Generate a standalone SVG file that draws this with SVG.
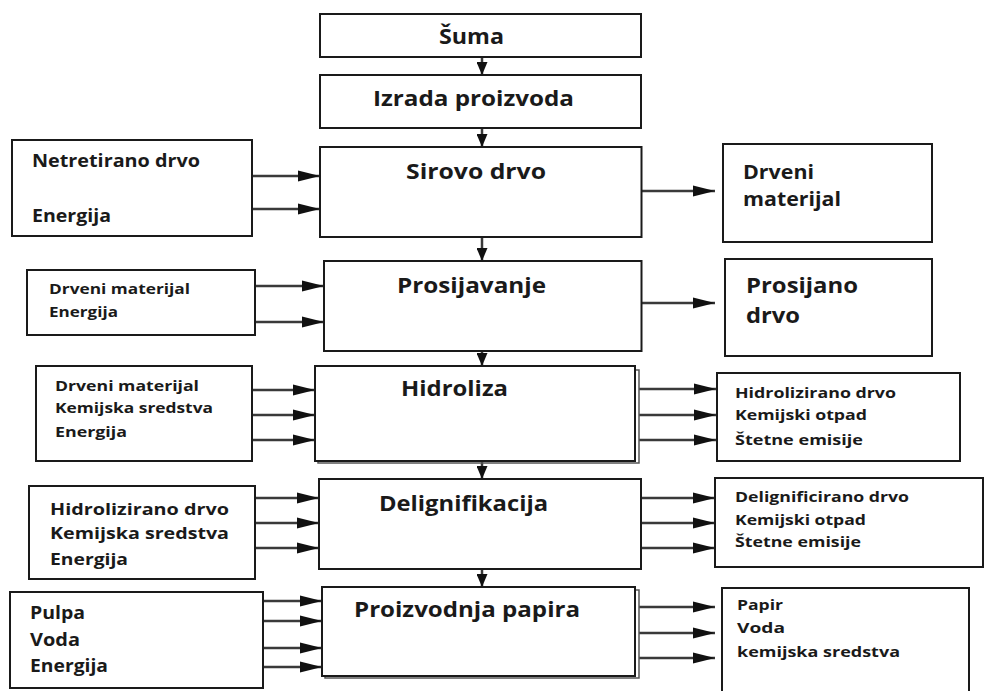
<svg xmlns="http://www.w3.org/2000/svg" width="984" height="691" viewBox="0 0 984 691">
<style>
.box{fill:#fff;stroke:#1a1a1a;stroke-width:2}
.shadow{fill:none;stroke:#555;stroke-width:1.5}
.c line{stroke:#3a3a3a;stroke-width:2.5}
text{font-family:"Open Sans","Liberation Sans",sans-serif;font-weight:700;fill:#1a1a1a}
.t{font-size:22px}
.s20{font-size:20px}
.s14{font-size:14px}.s15{font-size:15px}.s16{font-size:16px}.s17{font-size:17px}
</style>
<defs>
<marker id="ah" markerUnits="userSpaceOnUse" markerWidth="22" markerHeight="12" refX="22" refY="6" orient="auto"><path d="M0,0.5 L22,6 L0,11.5 Z" fill="#111"/></marker>
<marker id="av" markerUnits="userSpaceOnUse" markerWidth="13" markerHeight="11" refX="13" refY="5.5" orient="auto"><path d="M0,0 L13,5.5 L0,11 Z" fill="#111"/></marker>
</defs>
<rect width="984" height="691" fill="#fff"/>
<g class="c" id="connectors">
<line x1="482" y1="57" x2="482" y2="75" marker-end="url(#av)"/>
<line x1="482" y1="128" x2="482" y2="147" marker-end="url(#av)"/>
<line x1="482" y1="237" x2="482" y2="261" marker-end="url(#av)"/>
<line x1="482" y1="351" x2="482" y2="366" marker-end="url(#av)"/>
<line x1="482" y1="461" x2="482" y2="479" marker-end="url(#av)"/>
<line x1="482" y1="569" x2="482" y2="587" marker-end="url(#av)"/>
<line x1="252" y1="176" x2="320" y2="176" marker-end="url(#ah)"/>
<line x1="252" y1="209" x2="320" y2="209" marker-end="url(#ah)"/>
<line x1="642" y1="191" x2="715" y2="191" marker-end="url(#ah)"/>
<line x1="255" y1="286" x2="324" y2="286" marker-end="url(#ah)"/>
<line x1="255" y1="322" x2="324" y2="322" marker-end="url(#ah)"/>
<line x1="642" y1="303" x2="715" y2="303" marker-end="url(#ah)"/>
<line x1="252" y1="390" x2="315" y2="390" marker-end="url(#ah)"/>
<line x1="252" y1="415" x2="315" y2="415" marker-end="url(#ah)"/>
<line x1="252" y1="440" x2="315" y2="440" marker-end="url(#ah)"/>
<line x1="639" y1="389" x2="716" y2="389" marker-end="url(#ah)"/>
<line x1="639" y1="415" x2="716" y2="415" marker-end="url(#ah)"/>
<line x1="639" y1="440" x2="716" y2="440" marker-end="url(#ah)"/>
<line x1="255" y1="498" x2="319" y2="498" marker-end="url(#ah)"/>
<line x1="255" y1="523" x2="319" y2="523" marker-end="url(#ah)"/>
<line x1="255" y1="548" x2="319" y2="548" marker-end="url(#ah)"/>
<line x1="641" y1="498" x2="715" y2="498" marker-end="url(#ah)"/>
<line x1="641" y1="523" x2="715" y2="523" marker-end="url(#ah)"/>
<line x1="641" y1="548" x2="715" y2="548" marker-end="url(#ah)"/>
<line x1="263" y1="601" x2="322" y2="601" marker-end="url(#ah)"/>
<line x1="263" y1="621" x2="322" y2="621" marker-end="url(#ah)"/>
<line x1="263" y1="648" x2="322" y2="648" marker-end="url(#ah)"/>
<line x1="263" y1="667" x2="322" y2="667" marker-end="url(#ah)"/>
<line x1="639" y1="607" x2="715" y2="607" marker-end="url(#ah)"/>
<line x1="639" y1="633" x2="715" y2="633" marker-end="url(#ah)"/>
<line x1="639" y1="658" x2="715" y2="658" marker-end="url(#ah)"/>
</g>
<g id="suma"><rect class="box" x="320" y="14" width="321" height="43"/><text class="t" x="439" y="44" textLength="65" lengthAdjust="spacingAndGlyphs">Šuma</text></g>
<g id="izrada"><rect class="box" x="320" y="75" width="321" height="53"/><text class="t" x="373" y="106" textLength="201" lengthAdjust="spacingAndGlyphs">Izrada proizvoda</text></g>
<g id="sirovo"><rect class="box" x="320" y="147" width="321.5" height="90"/><text class="t" x="406" y="179" textLength="140" lengthAdjust="spacingAndGlyphs">Sirovo drvo</text></g>
<g id="in1"><rect class="box" x="12" y="140" width="240" height="96"/><text class="s17" x="32" y="167" textLength="168" lengthAdjust="spacingAndGlyphs">Netretirano drvo</text><text class="s17" x="32" y="222" textLength="79" lengthAdjust="spacingAndGlyphs">Energija</text></g>
<g id="out1"><rect class="box" x="723" y="144" width="209" height="98"/><text class="s20" x="743" y="179" textLength="71" lengthAdjust="spacingAndGlyphs">Drveni</text><text class="s20" x="743" y="206" textLength="98" lengthAdjust="spacingAndGlyphs">materijal</text></g>
<g id="prosijavanje"><rect class="box" x="324" y="261" width="317.5" height="90"/><text class="t" x="397" y="293" textLength="149" lengthAdjust="spacingAndGlyphs">Prosijavanje</text></g>
<g id="in2"><rect class="box" x="27" y="270" width="228" height="65"/><text class="s14" x="49" y="294" textLength="141" lengthAdjust="spacingAndGlyphs">Drveni materijal</text><text class="s14" x="49" y="317" textLength="69" lengthAdjust="spacingAndGlyphs">Energija</text></g>
<g id="out2"><rect class="box" x="725" y="259" width="207" height="97"/><text class="t" x="746" y="293" textLength="112" lengthAdjust="spacingAndGlyphs">Prosijano</text><text class="t" x="746" y="323" textLength="54" lengthAdjust="spacingAndGlyphs">drvo</text></g>
<g id="hidroliza"><path class="shadow" d="M636,370 H639 V463 H318 V461"/><rect class="box" x="315" y="366" width="320" height="95"/><text class="t" x="401" y="396" textLength="107" lengthAdjust="spacingAndGlyphs">Hidroliza</text></g>
<g id="in3"><rect class="box" x="36" y="366" width="216" height="95"/><text class="s14" x="55" y="391" textLength="144" lengthAdjust="spacingAndGlyphs">Drveni materijal</text><text class="s14" x="55" y="413" textLength="158" lengthAdjust="spacingAndGlyphs">Kemijska sredstva</text><text class="s14" x="55" y="437" textLength="72" lengthAdjust="spacingAndGlyphs">Energija</text></g>
<g id="out3"><rect class="box" x="717" y="373" width="243" height="88"/><text class="s14" x="735" y="398" textLength="161" lengthAdjust="spacingAndGlyphs">Hidrolizirano drvo</text><text class="s14" x="735" y="420" textLength="132" lengthAdjust="spacingAndGlyphs">Kemijski otpad</text><text class="s14" x="735" y="445" textLength="128" lengthAdjust="spacingAndGlyphs">Štetne emisije</text></g>
<g id="delignifikacija"><rect class="box" x="319" y="479" width="322" height="90"/><text class="t" x="379" y="511" textLength="169" lengthAdjust="spacingAndGlyphs">Delignifikacija</text></g>
<g id="in4"><rect class="box" x="29" y="486" width="226" height="93"/><text class="s16" x="50" y="515" textLength="179" lengthAdjust="spacingAndGlyphs">Hidrolizirano drvo</text><text class="s16" x="50" y="539" textLength="179" lengthAdjust="spacingAndGlyphs">Kemijska sredstva</text><text class="s16" x="50" y="565" textLength="78" lengthAdjust="spacingAndGlyphs">Energija</text></g>
<g id="out4"><rect class="box" x="715" y="478" width="268" height="89"/><text class="s15" x="735" y="502" textLength="174" lengthAdjust="spacingAndGlyphs">Delignificirano drvo</text><text class="s15" x="735" y="525" textLength="131" lengthAdjust="spacingAndGlyphs">Kemijski otpad</text><text class="s15" x="735" y="547" textLength="126" lengthAdjust="spacingAndGlyphs">Štetne emisije</text></g>
<g id="papir"><path class="shadow" d="M636,590 H639 V678 H325 V676"/><rect class="box" x="322" y="587" width="313" height="89"/><text class="t" x="354" y="617" textLength="226" lengthAdjust="spacingAndGlyphs">Proizvodnja papira</text></g>
<g id="in5"><rect class="box" x="10" y="592" width="253" height="96"/><text class="s17" x="30" y="619" textLength="55" lengthAdjust="spacingAndGlyphs">Pulpa</text><text class="s17" x="30" y="646" textLength="50" lengthAdjust="spacingAndGlyphs">Voda</text><text class="s17" x="30" y="672" textLength="78" lengthAdjust="spacingAndGlyphs">Energija</text></g>
<g id="out5"><rect class="box" x="722" y="588" width="247" height="115"/><text class="s14" x="737" y="610" textLength="46" lengthAdjust="spacingAndGlyphs">Papir</text><text class="s14" x="737" y="633" textLength="48" lengthAdjust="spacingAndGlyphs">Voda</text><text class="s14" x="737" y="657" textLength="163" lengthAdjust="spacingAndGlyphs">kemijska sredstva</text></g>
</svg>
